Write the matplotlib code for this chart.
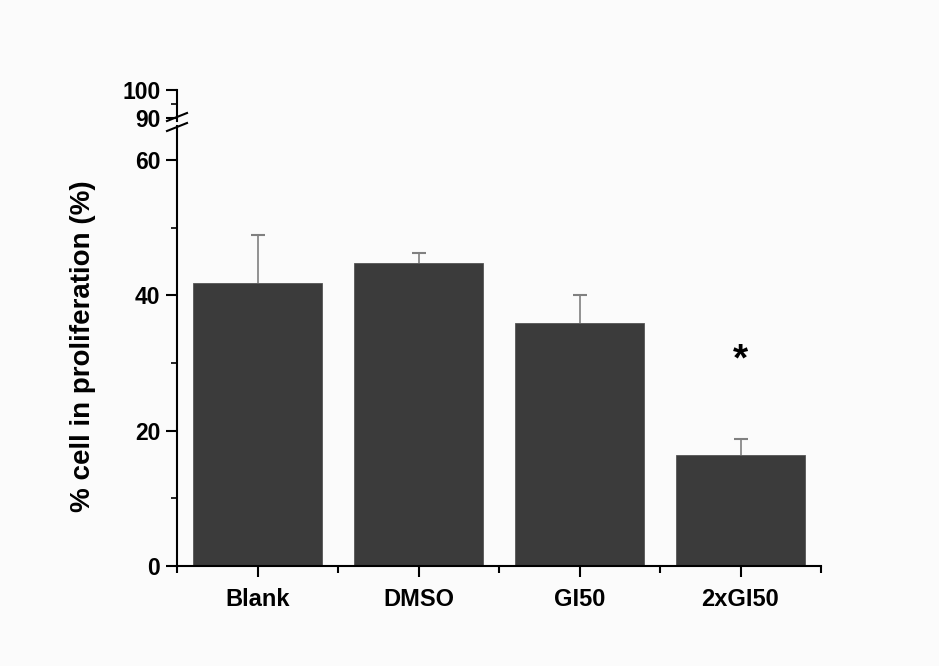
import matplotlib
matplotlib.use("Agg")
from matplotlib import pyplot as plt
from matplotlib.ticker import FixedLocator

groups = ["Blank", "DMSO", "GI50", "2xGI50"]
means = [41.8, 44.7, 35.9, 16.4]
errors = [7.1, 1.6, 4.2, 2.3]
star_group = 3
star_y = 30.3

plt.rcParams['font.family'] = ['Liberation Sans', 'DejaVu Sans']
plt.rcParams['font.weight'] = 'bold'

bg = "#fbfbfb"
fig = plt.figure(figsize=(9.39, 6.66), dpi=100, facecolor=bg)
W, H = 939, 666
left, right = 177 / W, 821 / W
ax = fig.add_axes([left, (H - 566) / H, right - left, (566 - 126) / H])
ax_top = fig.add_axes([left, (H - 121) / H, right - left, 31 / H])

x = list(range(len(groups)))
tops = [m + e for m, e in zip(means, errors)]
for a in (ax, ax_top):
    a.set_facecolor(bg)
    a.bar(x, means, 0.8, color="#3b3b3b", edgecolor="#555555", linewidth=0.6, zorder=2)
    a.vlines(x, means, tops, color="#808080", linewidth=1.2, zorder=1)
    a.plot(x, tops, linestyle="none", marker="_", markersize=10, markeredgewidth=1.5,
           color="#808080", zorder=1)
    a.set_xlim(-0.5, len(groups) - 0.5)
    for s in ("top", "right"):
        a.spines[s].set_visible(False)
    a.spines["left"].set_linewidth(1.5)
    a.tick_params(axis="y", direction="out", length=8, width=1.5, labelsize=16.5, pad=4)
    a.tick_params(axis="y", which="minor", direction="out", length=4, width=1.2)

ax.set_ylim(0, 65)
ax.yaxis.set_major_locator(FixedLocator([0, 20, 40, 60]))
ax.yaxis.set_minor_locator(FixedLocator([10, 30, 50]))
ax.spines["bottom"].set_linewidth(1.5)
ax.set_xticks(x)
ax.set_xticklabels(groups)
ax.xaxis.set_minor_locator(FixedLocator([i + 0.5 for i in range(-1, len(groups))]))
ax.tick_params(axis="x", direction="out", length=8, width=1.5, labelsize=17, pad=8)
ax.tick_params(axis="x", which="minor", direction="out", length=5, width=1.5)
ax.set_ylabel("% cell in proliferation (%)", fontsize=20, fontweight="bold", labelpad=28)
ax.text(star_group, star_y, "*", ha="center", va="center", fontsize=28, fontweight="bold")

ax_top.set_ylim(89, 100)
ax_top.yaxis.set_major_locator(FixedLocator([90, 100]))
ax_top.yaxis.set_minor_locator(FixedLocator([95]))
ax_top.spines["bottom"].set_visible(False)
ax_top.set_xticks([])

# break marks
for yb in (117, 127):
    fig.add_artist(plt.Line2D([167 / W, 187 / W], [(H - yb - 4) / H, (H - yb + 4) / H],
                              color="black", linewidth=1.5))

fig.savefig("out.png", dpi=100, facecolor=bg)
